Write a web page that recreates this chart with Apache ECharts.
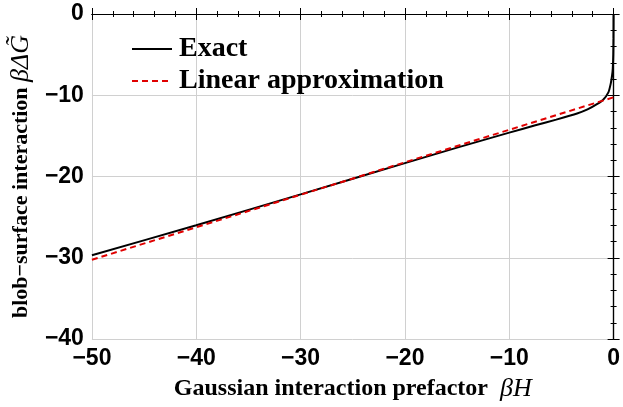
<!DOCTYPE html>
<html>
<head>
<meta charset="utf-8">
<script src="https://cdn.jsdelivr.net/npm/echarts@6/dist/echarts.min.js"></script>
<style>
  html, body { margin: 0; padding: 0; background: #fff; }
  #chart { width: 623px; height: 407px; }
</style>
</head>
<body>
<div id="chart"></div>
<script>
// values
const exactH = [-50, -40, -30, -20, -15, -10, -7.5, -5.5, -3.5, -2.5, -1.6, -1, -0.5, -0.28, -0.15, -0.08, -0.03, -0.01, 0]
const exactG = [-29.7, -26.0, -22.2, -18.35, -16.45, -14.6, -13.7, -13.0, -12.25, -11.75, -11.1, -10.55, -9.65, -8.6, -7.6, -6.7, -5.0, -3.0, 0]
const linearH = [-50, 0]
const linearG = [-30.25, -10.25]

const serif = '"Liberation Serif", "Times New Roman", serif'
const sans = '"Liberation Sans", Arial, sans-serif'

const fmt = (v) => (v < 0 ? '\u2212' + Math.abs(v) : String(v))

const tickIn = { show: true, inside: true, length: 6, lineStyle: { color: '#000', width: 1 } }
const minorIn = { show: true, splitNumber: 5, length: 3, lineStyle: { color: '#000', width: 1 } }

const chart = echarts.init(document.getElementById('chart'))

chart.setOption({
  animation: false,
  grid: { left: 90, right: 6, top: 14, bottom: 67 },
  legend: {
    orient: 'vertical',
    left: 126,
    top: 30,
    itemWidth: 40,
    itemHeight: 14,
    itemGap: 4,
    itemStyle: { opacity: 0 },
    textStyle: { fontFamily: serif, fontWeight: 'bold', fontSize: 28, color: '#000', padding: [0, 0, 0, 2] },
    data: ['Exact', 'Linear approximation'],
  },
  xAxis: [
    {
      type: 'value',
      min: -50,
      max: 0,
      interval: 10,
      axisLine: { lineStyle: { color: '#000', width: 1.2 } },
      axisTick: tickIn,
      minorTick: minorIn,
      splitLine: { show: true, lineStyle: { color: '#d0d0d0', width: 1 } },
      axisLabel: {
        formatter: fmt,
        fontFamily: sans,
        fontWeight: 'bold',
        fontSize: 23,
        color: '#000',
        margin: 8,
      },
      name: '{b|Gaussian interaction prefactor  }{i|\u03b2H}',
      nameLocation: 'middle',
      nameGap: 37,
      nameTextStyle: {
        rich: {
          b: { fontFamily: serif, fontWeight: 'bold', fontSize: 24, color: '#000' },
          i: { fontFamily: serif, fontStyle: 'italic', fontSize: 26, color: '#000' },
        },
      },
    },
    {
      type: 'value',
      position: 'top',
      min: -50,
      max: 0,
      interval: 10,
      axisLine: { lineStyle: { color: '#000', width: 1.2 } },
      axisTick: tickIn,
      minorTick: minorIn,
      splitLine: { show: false },
      axisLabel: { show: false },
    },
  ],
  yAxis: [
    {
      type: 'value',
      min: -40,
      max: 0,
      interval: 10,
      axisLine: { show: true, lineStyle: { color: '#000', width: 1.2 } },
      axisTick: tickIn,
      minorTick: minorIn,
      splitLine: { show: true, lineStyle: { color: '#d0d0d0', width: 1 } },
      axisLabel: {
        formatter: fmt,
        fontFamily: sans,
        fontWeight: 'bold',
        fontSize: 23,
        color: '#000',
        margin: 8,
      },
      name: '{b|blob\u2212surface interaction }{i|\u03b2\u0394G\u0303}',
      nameLocation: 'middle',
      nameGap: 50,
      nameTextStyle: {
        rich: {
          b: { fontFamily: serif, fontWeight: 'bold', fontSize: 22, color: '#000' },
          i: { fontFamily: serif, fontStyle: 'italic', fontSize: 26, color: '#000' },
        },
      },
    },
    {
      type: 'value',
      position: 'right',
      min: -40,
      max: 0,
      interval: 10,
      axisLine: { show: true, lineStyle: { color: '#000', width: 1.2 } },
      axisTick: tickIn,
      minorTick: minorIn,
      splitLine: { show: false },
      axisLabel: { show: false },
    },
  ],
  series: [
    {
      name: 'Exact',
      type: 'line',
      data: exactH.map((h, i) => [h, exactG[i]]),
      smooth: 0.2,
      symbol: 'none',
      lineStyle: { color: '#000', width: 2 },
      itemStyle: { color: '#000' },
      z: 3,
    },
    {
      name: 'Linear approximation',
      type: 'line',
      data: linearH.map((h, i) => [h, linearG[i]]),
      symbol: 'none',
      lineStyle: { color: '#e00000', width: 2, type: [6, 4] },
      itemStyle: { color: '#e00000' },
      z: 4,
    },
  ],
})
</script>
</body>
</html>
